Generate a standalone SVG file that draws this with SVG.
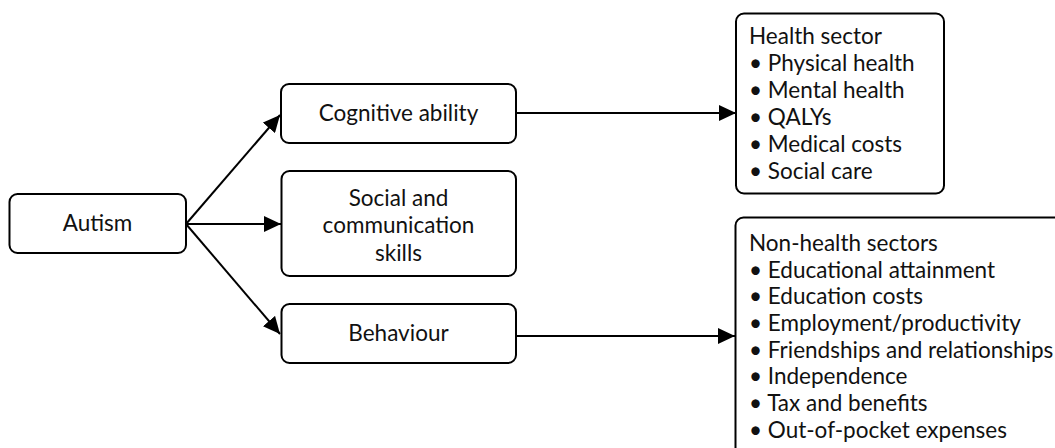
<svg xmlns="http://www.w3.org/2000/svg" width="1055" height="448" viewBox="0 0 1055 448">
<style>
.box{fill:#fff;stroke:#000;stroke-width:2}
.t{font-family:Lato,"Open Sans","Liberation Sans",sans-serif;font-size:22.5px;fill:#111}
.c{text-anchor:middle}
.ln{stroke:#000;stroke-width:2;fill:none}
</style>
<defs>
<marker id="ah" markerWidth="17" markerHeight="16" refX="17" refY="8" orient="auto" markerUnits="userSpaceOnUse">
<path d="M0,0 L17,8 L0,16 Z" fill="#000"/>
</marker>
</defs>
<rect width="1055" height="448" fill="#fff"/>
<g id="connectors">
<line class="ln" x1="186" y1="224" x2="280" y2="115" marker-end="url(#ah)"/>
<line class="ln" x1="186" y1="224" x2="281" y2="224" marker-end="url(#ah)"/>
<line class="ln" x1="186" y1="224" x2="280" y2="334" marker-end="url(#ah)"/>
<line class="ln" x1="516" y1="113" x2="736" y2="113" marker-end="url(#ah)"/>
<line class="ln" x1="516" y1="336" x2="735" y2="336" marker-end="url(#ah)"/>
</g>
<g id="autism">
<rect class="box" x="9.5" y="194" width="176.5" height="59" rx="8"/>
<text class="t c" x="97.5" y="231">Autism</text>
</g>
<g id="cognitive">
<rect class="box" x="281" y="84" width="235" height="59" rx="8"/>
<text class="t c" x="398.5" y="121">Cognitive ability</text>
</g>
<g id="social">
<rect class="box" x="281.5" y="171" width="234.5" height="105" rx="8"/>
<text class="t c" x="398.5" y="206">Social and</text>
<text class="t c" x="398.5" y="233">communication</text>
<text class="t c" x="398.5" y="261">skills</text>
</g>
<g id="behaviour">
<rect class="box" x="281.5" y="304" width="234.5" height="59" rx="8"/>
<text class="t c" x="398.5" y="341">Behaviour</text>
</g>
<g id="health">
<rect class="box" x="736" y="13.5" width="208" height="180" rx="8"/>
<text class="t" x="749" y="44">Health sector</text>
<text class="t" x="749" y="71">• Physical health</text>
<text class="t" x="749" y="98">• Mental health</text>
<text class="t" x="749" y="125">• QALYs</text>
<text class="t" x="749" y="152">• Medical costs</text>
<text class="t" x="749" y="179">• Social care</text>
</g>
<g id="nonhealth">
<rect class="box" x="735.5" y="217.5" width="400" height="300" rx="8"/>
<text class="t" x="749" y="251">Non-health sectors</text>
<text class="t" x="749" y="278">• Educational attainment</text>
<text class="t" x="749" y="304">• Education costs</text>
<text class="t" x="749" y="331">• Employment/productivity</text>
<text class="t" x="749" y="358">• Friendships and relationships</text>
<text class="t" x="749" y="384">• Independence</text>
<text class="t" x="749" y="411">• Tax and benefits</text>
<text class="t" x="749" y="438">• Out-of-pocket expenses</text>
</g>
</svg>
